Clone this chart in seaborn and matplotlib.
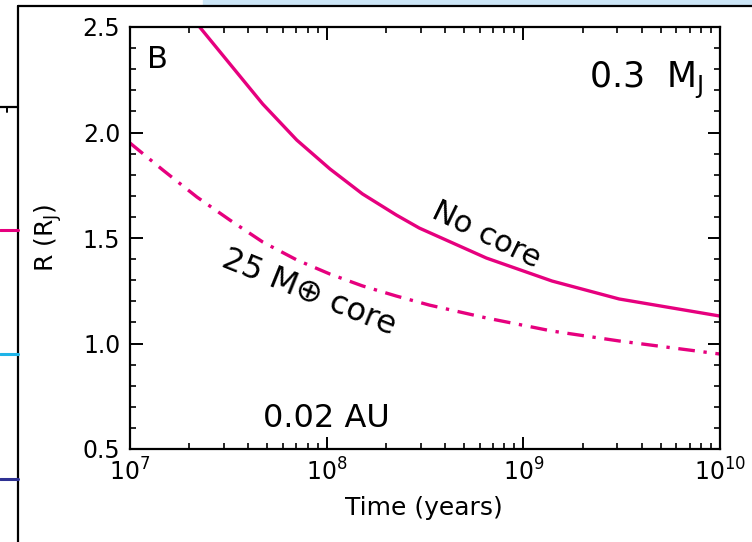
import numpy as np
import pandas as pd
import matplotlib
matplotlib.use("Agg")
import matplotlib.pyplot as plt
from matplotlib.lines import Line2D
from matplotlib.patches import Rectangle
from matplotlib.ticker import LogLocator, MultipleLocator, FormatStrFormatter, NullFormatter
import seaborn as sns

# ---- data ----
time_nocore = [2.26e7, 3.22e7, 4.73e7, 7.05e7, 1.04e8, 1.52e8, 2.26e8, 2.96e8,
               6.49e8, 1.40e9, 3.07e9, 1.0e10]
radius_nocore = [2.50, 2.325, 2.135, 1.964, 1.827, 1.709, 1.609, 1.547,
                 1.405, 1.296, 1.211, 1.130]

time_core = [1.0e7, 1.47e7, 2.19e7, 3.22e7, 4.73e7, 7.05e7, 1.04e8, 1.52e8,
             2.26e8, 3.33e8, 6.49e8, 1.40e9, 3.07e9, 1.0e10]
radius_core = [1.950, 1.822, 1.694, 1.585, 1.481, 1.396, 1.329, 1.273,
               1.225, 1.182, 1.121, 1.059, 1.012, 0.950]

series_labels = ["No core", "25 M\u2295 core"]
panel_label = "B"
mass_label = "0.3  M$_\\mathrm{J}$"
orbit_label = "0.02 AU"

pink = "#E6007E"

sns.set_theme(style="ticks")
plt.rcParams['font.family'] = ['DejaVu Sans']
plt.rcParams['mathtext.default'] = 'regular'
plt.rcParams['text.color'] = 'black'
plt.rcParams['axes.labelcolor'] = 'black'

fig = plt.figure(figsize=(7.52, 5.42), dpi=100)
ax = fig.add_axes([130/752, 1-449/542, 590/752, 422/542])

df1 = pd.DataFrame({"t": time_nocore, "R": radius_nocore})
df2 = pd.DataFrame({"t": time_core, "R": radius_core})
sns.lineplot(data=df1, x="t", y="R", ax=ax, color=pink, lw=2.4, sort=False)
sns.lineplot(data=df2, x="t", y="R", ax=ax, color=pink, lw=2.4, sort=False)
ax.lines[-1].set_dashes((5, 2.6, 1, 2.6))

ax.set_xscale("log")
ax.set_xlim(1e7, 1e10)
ax.set_ylim(0.5, 2.5)
ax.yaxis.set_major_locator(MultipleLocator(0.5))
ax.yaxis.set_minor_locator(MultipleLocator(0.1))
ax.yaxis.set_major_formatter(FormatStrFormatter("%.1f"))
ax.xaxis.set_major_locator(LogLocator(base=10, numticks=10))
ax.xaxis.set_minor_locator(LogLocator(base=10, subs=np.arange(2, 10), numticks=20))
ax.xaxis.set_minor_formatter(NullFormatter())

for s in ax.spines.values():
    s.set_visible(True)
    s.set_linewidth(1.6)
    s.set_color("black")
ax.tick_params(which="both", direction="in", top=True, right=True,
               colors="black", labelsize=17)
ax.tick_params(which="major", length=9, width=1.4, pad=7)
ax.tick_params(which="minor", length=4.5, width=1.2)

ax.set_xlabel("Time (years)", fontsize=18, color="black")
ax.xaxis.set_label_coords(0.498, -0.112)
ax.set_ylabel("R (R$_\\mathrm{J}$)", fontsize=18, color="black")
ax.yaxis.set_label_coords(-0.112, 0.5)

ax.text(0.028, 0.958, panel_label, transform=ax.transAxes, fontsize=22,
        va="top", ha="left")
ax.text(0.972, 0.855, mass_label, transform=ax.transAxes, fontsize=25,
        va="baseline", ha="right")
ax.text(0.333, 0.052, orbit_label, transform=ax.transAxes, fontsize=23,
        va="baseline", ha="center")
ax.text(6.5e8, 1.515, series_labels[0], fontsize=22, rotation=-26,
        ha="center", va="center")
ax.text(8.1e7, 1.24, series_labels[1], fontsize=23, rotation=-22,
        ha="center", va="center")

# ---- decorative remnants of the neighbouring panel ----
fig.patches.append(Rectangle((203/752, 1-5/542), 549/752, 5/542,
                             transform=fig.transFigure, color="#CCE6F7", zorder=0))
fig.lines.append(Line2D([18/752, 1], [1-5.5/542]*2, transform=fig.transFigure,
                        color="black", lw=1.6))
fig.lines.append(Line2D([18/752]*2, [0, 1-5.5/542], transform=fig.transFigure,
                        color="black", lw=1.6))
fig.lines.append(Line2D([0, 18/752], [1-107/542]*2, transform=fig.transFigure,
                        color="black", lw=1.6))
fig.lines.append(Line2D([7/752]*2, [1-107/542, 1-112/542], transform=fig.transFigure,
                        color="black", lw=1.4))
for yy, cc in [(230, pink), (354, "#1EB4E8"), (479, "#2E3192")]:
    fig.lines.append(Line2D([0, 18/752], [1-yy/542]*2, transform=fig.transFigure,
                            color=cc, lw=2.2))

fig.savefig("out.png", dpi=100)
